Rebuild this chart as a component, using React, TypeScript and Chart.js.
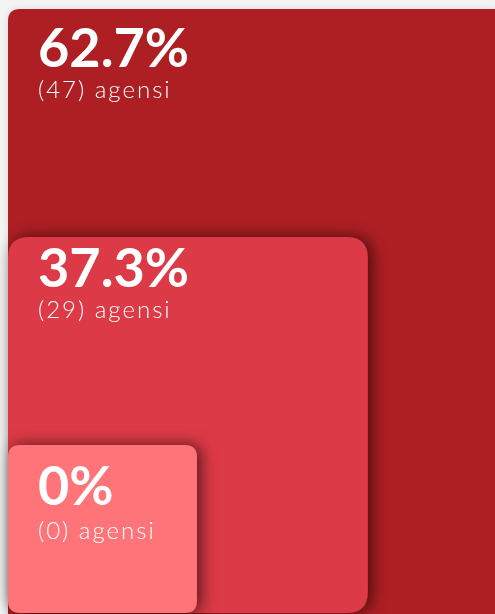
import React, { useEffect, useRef } from "react";
import { Chart, registerables } from "chart.js";

Chart.register(...registerables);

// Data
const categories = ["big", "mid", "small"];
const percentValues = [62.7, 37.3, 0];
const agencyCounts = [47, 29, 0];
const unitLabel = "agensi";
// Box extents on the hidden 0–100 scales (x = width, y = height)
const boxWidth = [102, 73.9, 38.8];
const boxHeight = [100, 62.25, 27.8];

const boxColors = ["#ae1f24", "#dc3a46", "#ff7479"];
const boxRadius = [12, 21, 12];
const labelDrop = [58, 50, 60];
const subDrop = [31, 31, 34];

function roundRect(ctx: CanvasRenderingContext2D, x: number, y: number, w: number, h: number, r: number) {
  ctx.beginPath();
  ctx.moveTo(x + r, y);
  ctx.lineTo(x + w - r, y);
  ctx.quadraticCurveTo(x + w, y, x + w, y + r);
  ctx.lineTo(x + w, y + h - r);
  ctx.quadraticCurveTo(x + w, y + h, x + w - r, y + h);
  ctx.lineTo(x + r, y + h);
  ctx.quadraticCurveTo(x, y + h, x, y + h - r);
  ctx.lineTo(x, y + r);
  ctx.quadraticCurveTo(x, y, x + r, y);
  ctx.closePath();
}

const boxPlugin = {
  id: "nestedBoxes",
  afterDatasetsDraw(chart: any) {
    const ctx: CanvasRenderingContext2D = chart.ctx;
    const xs = chart.scales.x;
    const ys = chart.scales.y;
    const data = chart.data.datasets[0].data as { x: number; y: number }[];
    data.forEach((pt, i) => {
      const x0 = xs.getPixelForValue(0);
      const x1 = xs.getPixelForValue(pt.x);
      const yTop = ys.getPixelForValue(pt.y);
      const yBot = ys.getPixelForValue(i === 0 ? -5 : 0);
      ctx.save();
      if (i === 0) {
        ctx.shadowColor = "rgba(0,0,0,0.1)";
        ctx.shadowBlur = 8;
        ctx.shadowOffsetX = 0;
        ctx.shadowOffsetY = 0;
      } else {
        ctx.shadowColor = "rgba(0,0,0,0.6)";
        ctx.shadowBlur = 16;
        ctx.shadowOffsetX = 4;
        ctx.shadowOffsetY = 0;
      }
      ctx.fillStyle = boxColors[i];
      roundRect(ctx, x0, yTop, x1 - x0, yBot - yTop, boxRadius[i]);
      ctx.fill();
      ctx.restore();

      ctx.save();
      ctx.fillStyle = "#ffffff";
      ctx.textBaseline = "alphabetic";
      ctx.textAlign = "left";
      ctx.font = "bold 54px Lato";
      const base = yTop + labelDrop[i];
      ctx.fillText(`${percentValues[i]}%`, x0 + 30, base);
      ctx.font = "300 24px Lato";
      (ctx as any).letterSpacing = "2px";
      ctx.fillText(`(${agencyCounts[i]}) ${unitLabel}`, x0 + 30, base + subDrop[i]);
      ctx.restore();
    });
  },
};

export default function App() {
  const ref = useRef<HTMLCanvasElement>(null);
  useEffect(() => {
    if (!ref.current) return;
    const chart = new Chart(ref.current, {
      type: "scatter",
      data: {
        labels: categories,
        datasets: [
          {
            data: categories.map((_, i) => ({ x: boxWidth[i], y: boxHeight[i] })),
            pointRadius: 0,
            pointHoverRadius: 0,
          },
        ],
      },
      options: {
        responsive: false,
        animation: false,
        layout: { padding: { left: 8, top: 9, right: 0, bottom: 1 } },
        plugins: { legend: { display: false }, tooltip: { enabled: false } },
        scales: {
          x: { type: "linear", min: 0, max: 100, display: false },
          y: { type: "linear", min: 0, max: 100, display: false },
        },
      },
      plugins: [boxPlugin],
    });
    return () => chart.destroy();
  }, []);
  return (
    <div style={{ position: "fixed", left: 0, top: 0, width: 495, height: 614, background: "#f4f4f4", overflow: "hidden" }}>
      <canvas ref={ref} width={495} height={614} style={{ display: "block" }} />
    </div>
  );
}
